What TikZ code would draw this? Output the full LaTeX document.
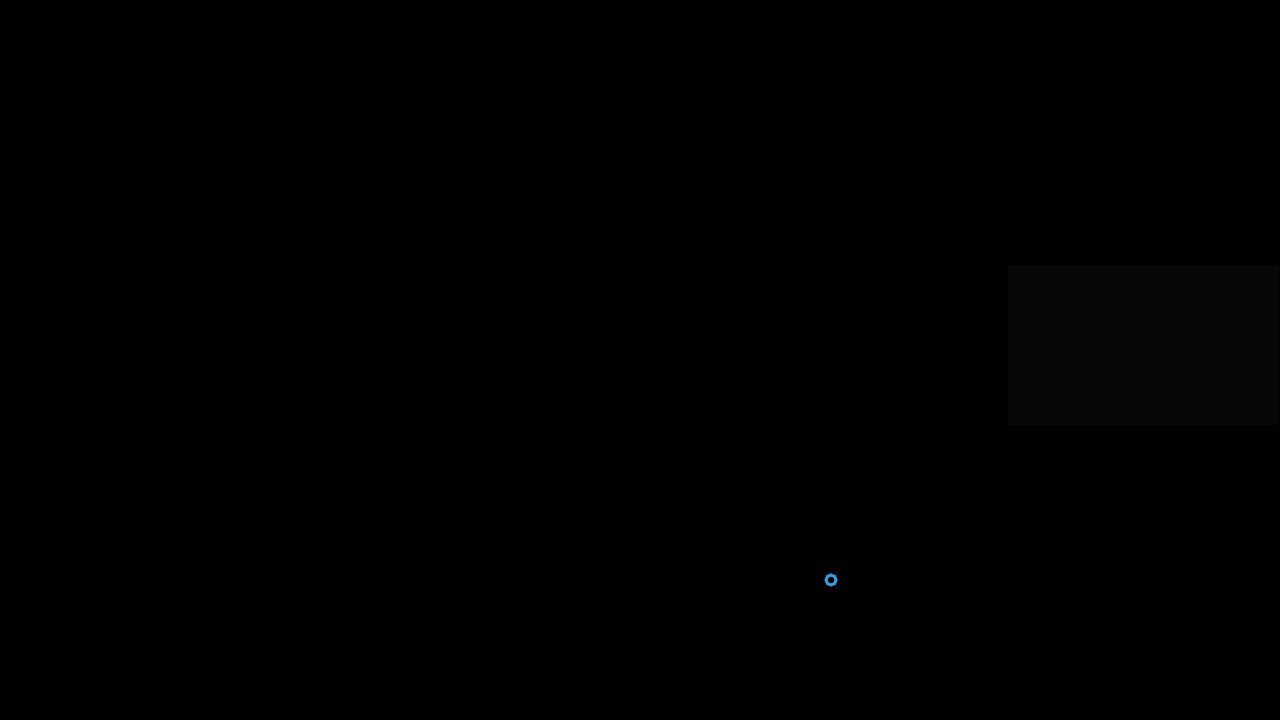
\documentclass[tikz,border=0pt]{standalone}
\usepackage{xcolor}
\usepackage{tikz}
\usetikzlibrary{positioning}
\definecolor{ringblue}{HTML}{3A9AD9}
\definecolor{panelgray}{HTML}{070707}

\begin{document}
\begin{tikzpicture}[x=1cm, y=1cm, panel/.style={fill=panelgray, draw=none, inner sep=0pt, minimum width=2.71cm, minimum height=1.6cm}, ring/.style={circle, draw=ringblue, line width=0.85pt, inner sep=0pt, minimum size=0.1cm}]
	
	% Draw background
	\fill[black] (0,0) rectangle (12.8,7.2);
	\useasboundingbox (0,0) rectangle (12.8,7.2);
	
	% Draw shapes
	\node (panel) [panel, anchor=north east] at (12.8,4.56) {};
	\node (dot) [ring] at (8.31,1.40) {};
	
\end{tikzpicture}
\end{document}
